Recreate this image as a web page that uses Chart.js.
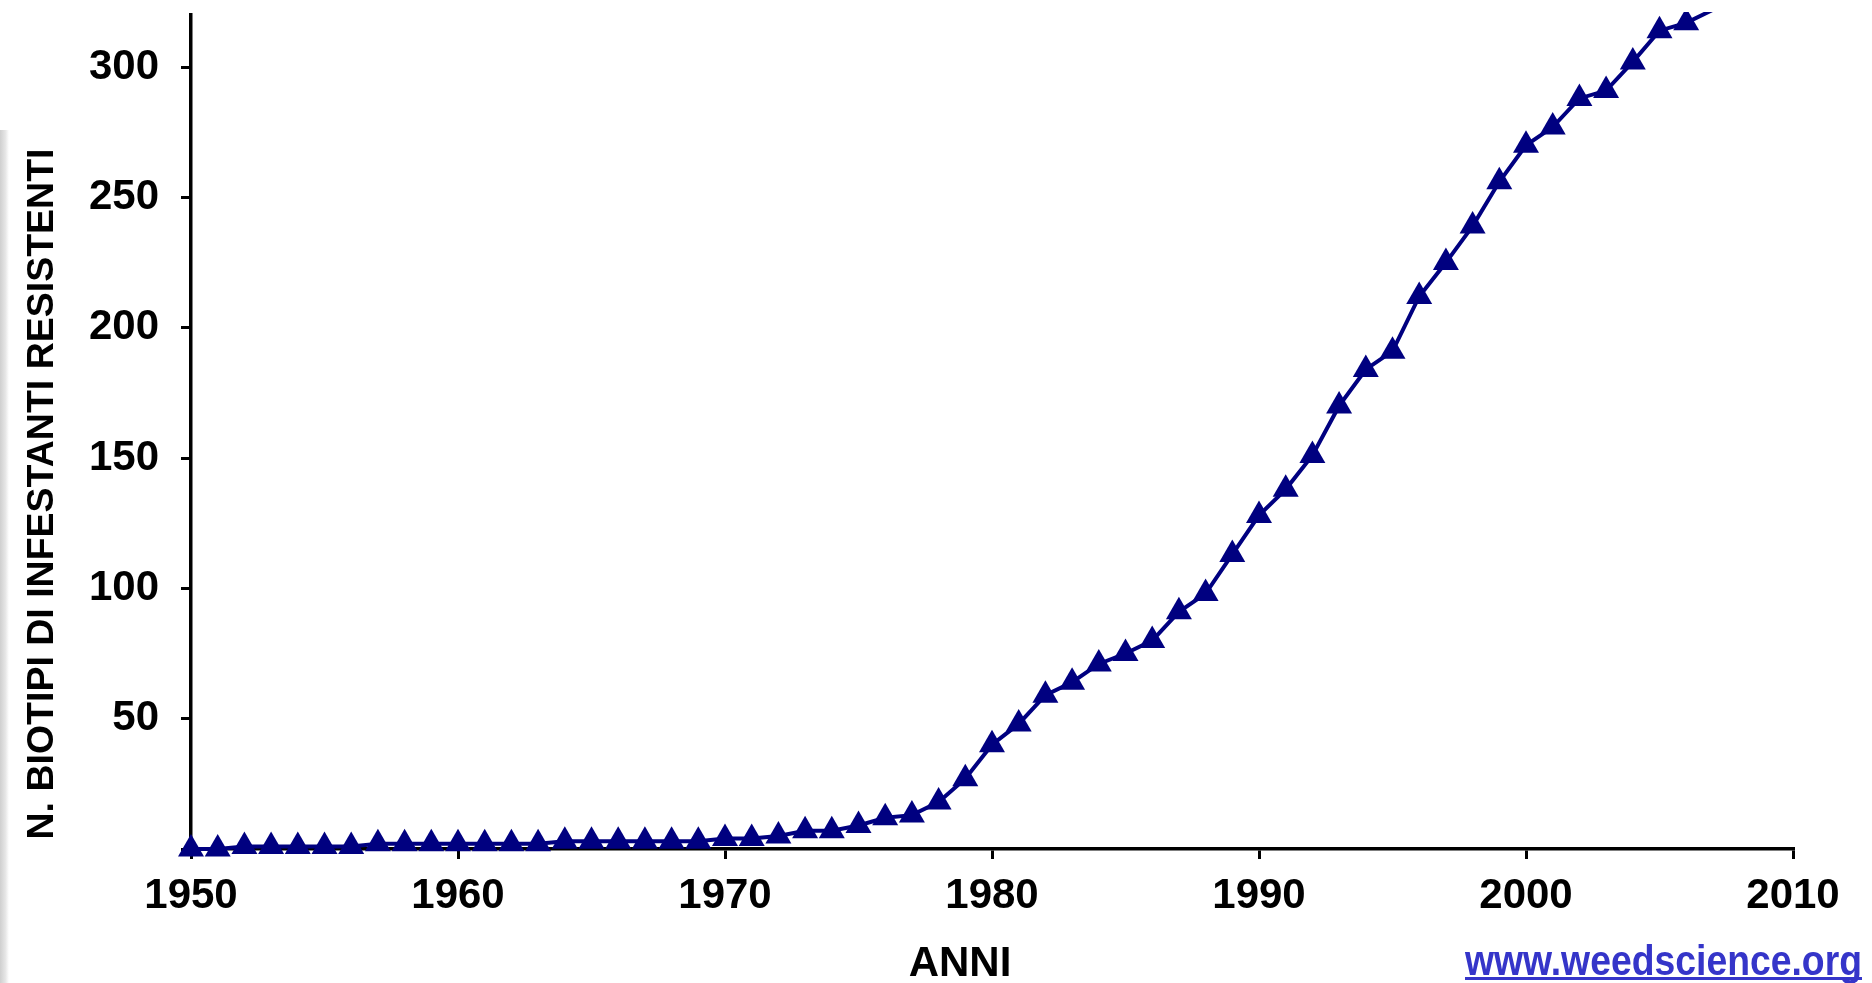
<!DOCTYPE html>
<html>
<head>
<meta charset="utf-8">
<script src="https://cdn.jsdelivr.net/npm/chart.js@4.4.0/dist/chart.umd.min.js"></script>
<style>
    html, body { margin: 0; padding: 0; background: #fff; }
    #wrap { position: relative; width: 1872px; height: 983px; overflow: hidden; }
    #edge { position: absolute; left: 0; top: 130px; width: 9px; height: 853px;
            background: linear-gradient(to right, #cfcfcf, #e6e6e6 60%, #fff); }
    canvas { position: absolute; left: 0; top: 0; }
</style>
</head>
<body>
<div id="wrap">
    <div id="edge"></div>
    <canvas id="trendChart" width="1872" height="983"></canvas>
</div>
<script>
// Data (cumulative resistant biotypes per year)
const years = [
    1950, 1951, 1952, 1953, 1954, 1955, 1956, 1957, 1958, 1959,
    1960, 1961, 1962, 1963, 1964, 1965, 1966, 1967, 1968, 1969,
    1970, 1971, 1972, 1973, 1974, 1975, 1976, 1977, 1978, 1979,
    1980, 1981, 1982, 1983, 1984, 1985, 1986, 1987, 1988, 1989,
    1990, 1991, 1992, 1993, 1994, 1995, 1996, 1997, 1998, 1999,
    2000, 2001, 2002, 2003, 2004, 2005, 2006, 2007
];
const biotypes = [
    0, 0, 1, 1, 1, 1, 1, 2, 2, 2,
    2, 2, 2, 2, 3, 3, 3, 3, 3, 3,
    4, 4, 5, 7, 7, 9, 12, 13, 18, 27,
    40, 48, 59, 64, 71, 75, 80, 91, 98, 113,
    128, 138, 151, 170, 184, 191, 212, 225, 239, 256,
    270, 277, 288, 291, 302, 314, 317, 322
];
const xTicks = [1950, 1960, 1970, 1980, 1990, 2000, 2010];
const yTicks = [0, 50, 100, 150, 200, 250, 300];

const tickFont = { family: "'Liberation Sans', Arial, sans-serif", size: 42, weight: 'bold' };

// Draws a line of text squeezed to a given width (the slide uses a condensed face)
function squeezedText(ctx, text, rightX, y, targetWidth) {
    const w = ctx.measureText(text).width;
    const sx = Math.min(1, targetWidth / w);
    ctx.save();
    ctx.translate(rightX - w * sx, y);
    ctx.scale(sx, 1);
    ctx.textAlign = 'left';
    ctx.fillText(text, 0, 0);
    ctx.restore();
    return w * sx;
}

// Axis titles and the source link, placed where the original slide has them
const textPlugin = {
    id: 'slideText',
    afterDraw(chart) {
        const ctx = chart.ctx;
        ctx.save();
        ctx.fillStyle = '#000';
        ctx.textAlign = 'center';
        ctx.textBaseline = 'middle';

        // y title
        ctx.save();
        ctx.translate(43, 494);
        ctx.rotate(-Math.PI / 2);
        ctx.font = "bold 37.5px 'Liberation Sans', Arial, sans-serif";
        ctx.fillText('N. BIOTIPI DI INFESTANTI RESISTENTI', 0, 0);
        ctx.restore();

        // x title
        ctx.font = "bold 42px 'Liberation Sans', Arial, sans-serif";
        ctx.fillText('ANNI', 960, 964);

        // source link
        ctx.font = "bold 42px 'Liberation Sans', Arial, sans-serif";
        ctx.fillStyle = '#3535c9';
        const w = squeezedText(ctx, 'www.weedscience.org', 1862, 963, 397);
        ctx.fillRect(1862 - w, 977, w, 3);
        ctx.restore();
    }
};

const ctxLine = document.getElementById('trendChart').getContext('2d');
new Chart(ctxLine, {
    type: 'line',
    data: {
        datasets: [{
            data: years.map((y, i) => ({ x: y, y: biotypes[i] })),
            borderColor: '#000080',
            backgroundColor: '#000080',
            borderWidth: 4,
            pointStyle: 'triangle',
            pointRadius: ctx => ctx.dataIndex === years.length - 1 ? 0 : 15,
            pointBorderWidth: 0,
            pointBackgroundColor: '#000080',
            tension: 0,
            clip: { left: 20, top: 3, right: 0, bottom: 20 }
        }]
    },
    options: {
        responsive: false,
        devicePixelRatio: 1,
        animation: false,
        layout: { padding: { left: 0, top: 11, right: 79, bottom: 0 } },
        plugins: {
            legend: { display: false },
            tooltip: { enabled: false },
            title: { display: false }
        },
        scales: {
            x: {
                type: 'linear',
                min: 1950,
                max: 2010,
                afterBuildTicks: scale => { scale.ticks = xTicks.map(v => ({ value: v })); },
                afterFit: scale => {
                    scale.height = 983 - 849;
                    scale.paddingLeft = 0;
                    scale.paddingRight = 0;
                },
                grid: {
                    drawOnChartArea: false,
                    drawTicks: true,
                    tickLength: 10,
                    color: '#000',
                    lineWidth: 3
                },
                border: { display: true, color: '#000', width: 3.5 },
                ticks: {
                    color: '#000',
                    font: tickFont,
                    padding: 12,
                    maxRotation: 0,
                    autoSkip: false,
                    callback: v => String(v)
                }
            },
            y: {
                type: 'linear',
                min: 0,
                max: 320,
                afterBuildTicks: scale => { scale.ticks = yTicks.map(v => ({ value: v })); },
                afterFit: scale => {
                    scale.width = 191;
                    scale.paddingTop = 0;
                    scale.paddingBottom = 0;
                },
                grid: {
                    drawOnChartArea: false,
                    drawTicks: true,
                    tickLength: 10,
                    color: '#000',
                    lineWidth: 3
                },
                border: { display: true, color: '#000', width: 3.5 },
                ticks: {
                    color: '#000',
                    font: tickFont,
                    padding: 22,
                    autoSkip: false,
                    callback: v => (v === 0 ? '' : String(v))
                }
            }
        }
    },
    plugins: [textPlugin]
});
</script>
</body>
</html>
